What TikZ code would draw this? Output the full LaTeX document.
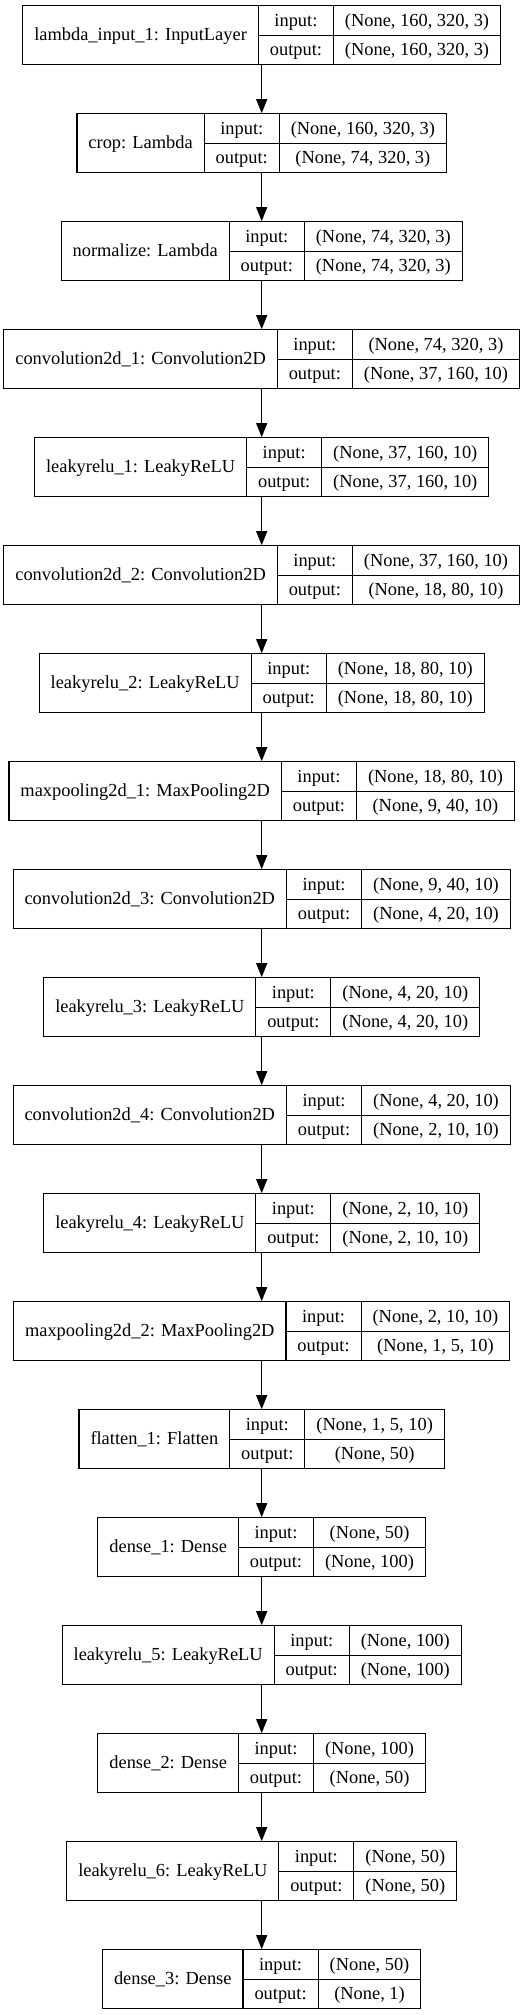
\documentclass[tikz,border=0pt]{standalone}
\usepackage{fontspec}
\setmainfont{Liberation Serif}
\usepackage{multirow}
\usetikzlibrary{arrows.meta,positioning}

\setlength{\tabcolsep}{5.75pt}
\setlength{\arrayrulewidth}{0.55pt}
\newcommand{\kerasrec}[3]{%
  \begin{tabular}{c|c|c}
    \multirow{2}{*}{#1} & input:  & #2 \\ \cline{2-3}
                        & output: & #3
  \end{tabular}}

\begin{document}
\begin{tikzpicture}[->, >={Triangle[length=7pt, width=5.5pt]}, line width=0.55pt,
    node distance=54pt,
    layer/.style={draw, rectangle, inner sep=0pt, font=\fontsize{9.2}{14.65}\selectfont}]
  \useasboundingbox (-130.85pt,17.5pt) rectangle (132.15pt,-990pt);

  \node[layer] (in)                      {\kerasrec{lambda\_input\_1: InputLayer}{(None, 160, 320, 3)}{(None, 160, 320, 3)}};
  \node[layer] (crop)   [below of=in]    {\kerasrec{crop: Lambda}{(None, 160, 320, 3)}{(None, 74, 320, 3)}};
  \node[layer] (norm)   [below of=crop]  {\kerasrec{normalize: Lambda}{(None, 74, 320, 3)}{(None, 74, 320, 3)}};
  \node[layer] (conv1)  [below of=norm]  {\kerasrec{convolution2d\_1: Convolution2D}{(None, 74, 320, 3)}{(None, 37, 160, 10)}};
  \node[layer] (lrelu1) [below of=conv1] {\kerasrec{leakyrelu\_1: LeakyReLU}{(None, 37, 160, 10)}{(None, 37, 160, 10)}};
  \node[layer] (conv2)  [below of=lrelu1]{\kerasrec{convolution2d\_2: Convolution2D}{(None, 37, 160, 10)}{(None, 18, 80, 10)}};
  \node[layer] (lrelu2) [below of=conv2] {\kerasrec{leakyrelu\_2: LeakyReLU}{(None, 18, 80, 10)}{(None, 18, 80, 10)}};
  \node[layer] (pool1)  [below of=lrelu2]{\kerasrec{maxpooling2d\_1: MaxPooling2D}{(None, 18, 80, 10)}{(None, 9, 40, 10)}};
  \node[layer] (conv3)  [below of=pool1] {\kerasrec{convolution2d\_3: Convolution2D}{(None, 9, 40, 10)}{(None, 4, 20, 10)}};
  \node[layer] (lrelu3) [below of=conv3] {\kerasrec{leakyrelu\_3: LeakyReLU}{(None, 4, 20, 10)}{(None, 4, 20, 10)}};
  \node[layer] (conv4)  [below of=lrelu3]{\kerasrec{convolution2d\_4: Convolution2D}{(None, 4, 20, 10)}{(None, 2, 10, 10)}};
  \node[layer] (lrelu4) [below of=conv4] {\kerasrec{leakyrelu\_4: LeakyReLU}{(None, 2, 10, 10)}{(None, 2, 10, 10)}};
  \node[layer] (pool2)  [below of=lrelu4]{\kerasrec{maxpooling2d\_2: MaxPooling2D}{(None, 2, 10, 10)}{(None, 1, 5, 10)}};
  \node[layer] (flat)   [below of=pool2] {\kerasrec{flatten\_1: Flatten}{(None, 1, 5, 10)}{(None, 50)}};
  \node[layer] (dense1) [below of=flat]  {\kerasrec{dense\_1: Dense}{(None, 50)}{(None, 100)}};
  \node[layer] (lrelu5) [below of=dense1]{\kerasrec{leakyrelu\_5: LeakyReLU}{(None, 100)}{(None, 100)}};
  \node[layer] (dense2) [below of=lrelu5]{\kerasrec{dense\_2: Dense}{(None, 100)}{(None, 50)}};
  \node[layer] (lrelu6) [below of=dense2]{\kerasrec{leakyrelu\_6: LeakyReLU}{(None, 50)}{(None, 50)}};
  \node[layer] (dense3) [below of=lrelu6]{\kerasrec{dense\_3: Dense}{(None, 50)}{(None, 1)}};

  \path (in)     edge (crop)
        (crop)   edge (norm)
        (norm)   edge (conv1)
        (conv1)  edge (lrelu1)
        (lrelu1) edge (conv2)
        (conv2)  edge (lrelu2)
        (lrelu2) edge (pool1)
        (pool1)  edge (conv3)
        (conv3)  edge (lrelu3)
        (lrelu3) edge (conv4)
        (conv4)  edge (lrelu4)
        (lrelu4) edge (pool2)
        (pool2)  edge (flat)
        (flat)   edge (dense1)
        (dense1) edge (lrelu5)
        (lrelu5) edge (dense2)
        (dense2) edge (lrelu6)
        (lrelu6) edge (dense3)
        ;
\end{tikzpicture}
\end{document}
